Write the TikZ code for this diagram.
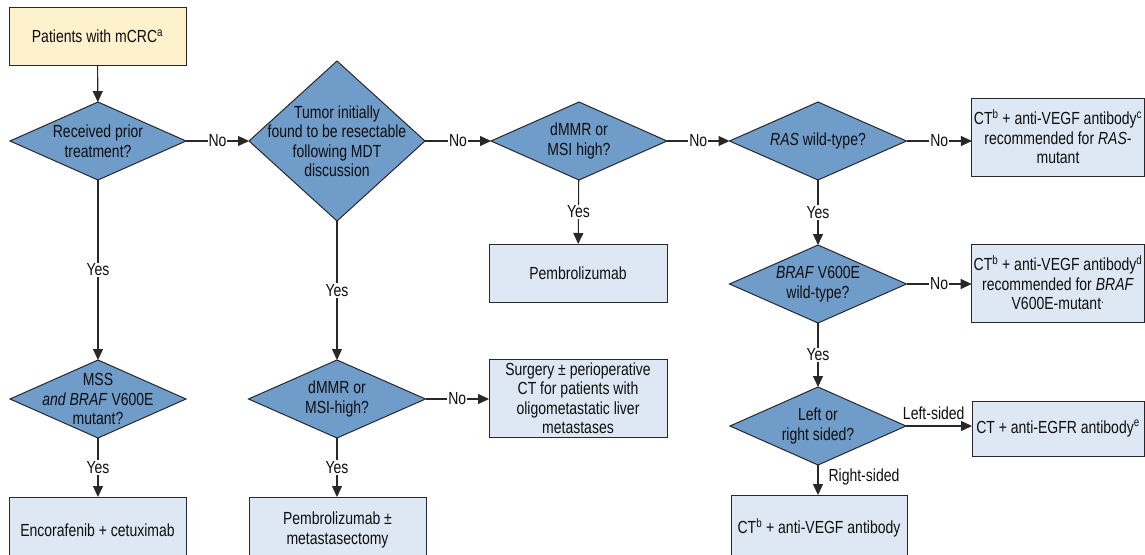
\documentclass[tikz,border=0pt]{standalone}
\usepackage{fontspec}
\setmainfont{Liberation Sans}[FakeStretch=0.8]
\usetikzlibrary{shapes.geometric,arrows.meta}
\definecolor{decfill}{RGB}{111,156,201}
\definecolor{boxfill}{RGB}{221,232,244}
\definecolor{startfill}{RGB}{254,242,204}
\definecolor{edge}{RGB}{40,40,40}
\definecolor{txt}{RGB}{15,15,15}
\tikzset{
  every node/.style={font=\fontsize{17.5}{19.5}\selectfont, text=txt},
  decision/.style={draw=edge, line width=1pt, fill=decfill, shape=diamond, inner sep=0pt, outer sep=0pt, minimum width=176pt, minimum height=78pt},
  dlabel/.style={align=center, inner sep=0pt},
  outcome/.style={draw=edge, line width=1pt, fill=boxfill, rectangle, inner sep=2pt, outer sep=0pt, align=center},
  startbox/.style={draw=edge, line width=1pt, fill=startfill, rectangle, outer sep=0pt, align=center},
  arr/.style={draw=edge, line width=1.1pt, -{Triangle[length=11pt,width=10pt]}},
  lbl/.style={fill=white, inner sep=1pt},
  plainlbl/.style={inner sep=2pt}
}
\begin{document}
\begin{tikzpicture}[x=1pt,y=-1pt]
\useasboundingbox (0,0) rectangle (1145,554);
% start
\node[startbox, minimum width=177pt, minimum height=58pt] (start) at (97.5,36) {Patients with mCRC\textsuperscript{a}};
% row 1 decisions
\node[decision, label={[dlabel]center:Received prior\\treatment?}] (d1) at (98,141) {};
\node[decision, minimum height=160pt, label={[dlabel]center:Tumor initially\\found to be resectable\\following MDT\\discussion}] (d2) at (337,141) {};
\node[decision, label={[dlabel]center:dMMR or\\MSI high?}] (d3) at (579,141) {};
\node[decision, minimum width=177pt, label={[dlabel]center:\textit{RAS} wild-type?}] (d4) at (818,141) {};
\node[outcome, minimum width=172pt, minimum height=78pt] (ras) at (1058,137) {CT\textsuperscript{b} + anti-VEGF antibody\textsuperscript{c}\\recommended for \textit{RAS}-\\mutant};
\node[outcome, minimum width=178pt, minimum height=58pt] (pem) at (578,273) {Pembrolizumab};
\node[decision, minimum width=177pt, label={[dlabel]center:\textit{BRAF} V600E\\wild-type?}] (d5) at (818,284) {};
\node[outcome, minimum width=172pt, minimum height=78pt] (braf) at (1058,283) {CT\textsuperscript{b} + anti-VEGF antibody\textsuperscript{d}\\recommended for \textit{BRAF}\\V600E-mutant\textsuperscript{.}};
\node[decision, label={[dlabel]center:Left or\\right sided?}] (d6) at (818,426) {};
\node[outcome, minimum width=172pt, minimum height=55pt] (egfr) at (1058,428.5) {CT + anti-EGFR antibody\textsuperscript{e}};
\node[outcome, minimum width=176pt, minimum height=66pt] (vegf) at (819,528) {CT\textsuperscript{b} + anti-VEGF antibody};
% left columns
\node[decision, label={[dlabel]center:MSS\\\textit{and BRAF} V600E\\mutant?}] (d7) at (98,399) {};
\node[outcome, minimum width=177pt, minimum height=66pt] (enco) at (97.5,530) {Encorafenib + cetuximab};
\node[decision, minimum width=177pt, label={[dlabel]center:dMMR or\\MSI-high?}] (d8) at (337,399) {};
\node[outcome, minimum width=178pt, minimum height=78pt] (surg) at (578,398) {Surgery ± perioperative\\CT for patients with\\oligometastatic liver\\metastases};
\node[outcome, minimum width=177pt, minimum height=66pt] (pem2) at (337.5,530) {Pembrolizumab ±\\metastasectomy};
% connectors
\draw[arr] (start) -- (d1);
\draw[arr] (d1) -- node[lbl]{No} (d2);
\draw[arr] (d2) -- node[lbl]{No} (d3);
\draw[arr] (d3) -- node[lbl]{No} (d4);
\draw[arr] (d4.east) -- node[lbl]{No} (d4.east -| ras.west);
\draw[arr] (d3) -- node[lbl]{Yes} (pem);
\draw[arr] (d4) -- node[lbl]{Yes} (d5);
\draw[arr] (d5.east) -- node[lbl]{No} (d5.east -| braf.west);
\draw[arr] (d5) -- node[lbl]{Yes} (d6);
\draw[arr] (d6.east) -- node[plainlbl, above=4pt, pos=0.42]{Left-sided} (d6.east -| egfr.west);
\draw[arr] (d6.south) -- node[plainlbl, right=8pt, pos=0.4]{Right-sided} (d6.south |- vegf.north);
\draw[arr] (d1) -- node[lbl]{Yes} (d7);
\draw[arr] (d7) -- node[lbl]{Yes} (d7.south |- enco.north);
\draw[arr] (d2) -- node[lbl]{Yes} (d8);
\draw[arr] (d8.east) -- node[lbl]{No} (d8.east -| surg.west);
\draw[arr] (d8) -- node[lbl]{Yes} (d8.south |- pem2.north);
\end{tikzpicture}
\end{document}
